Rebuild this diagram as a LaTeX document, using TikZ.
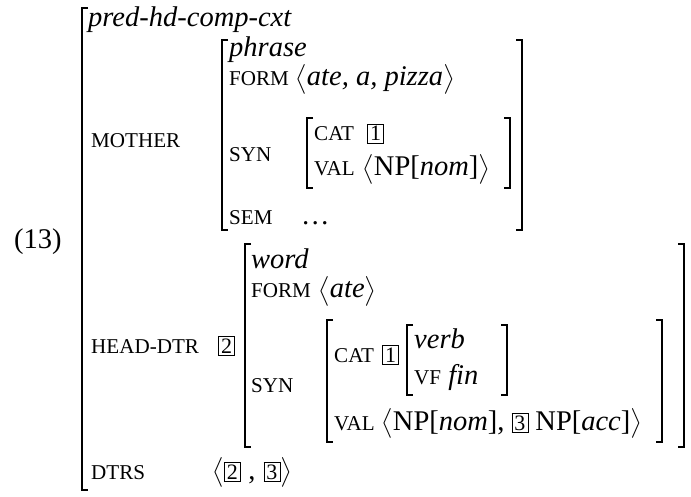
\documentclass[tikz,border=0pt]{standalone}
\usepackage{amsmath}
\usepackage{fontspec}
\setmainfont{Liberation Serif}
\newfontfamily\scfont[Scale=0.74]{Liberation Serif}
% attribute names in (imitated) small capitals
\newcommand\attr[1]{{\scfont #1}}
% boxed structure-sharing tags
\newcommand\tagnum[1]{{\setlength\fboxsep{2.2pt}\setlength\fboxrule{0.6pt}\fbox{\fontsize{22}{24}\selectfont #1}}}
\newcommand\la{$\bigl\langle$}
\newcommand\ra{$\bigr\rangle$}
% square brackets of attribute-value matrices: x, top y, bottom y
\newcommand\lbrk[3]{\draw[brk] ({#1+6},#2) -- (#1,#2) -- (#1,#3) -- ({#1+6},#3);}
\newcommand\rbrk[3]{\draw[brk] ({#1-6},#2) -- (#1,#2) -- (#1,#3) -- ({#1-6},#3);}
\begin{document}
\begin{tikzpicture}[x=1pt,y=-1pt,
  font=\fontsize{28.5}{36}\selectfont,
  txt/.style={anchor=base west,inner sep=0pt},
  brk/.style={line width=1.4pt}]
\useasboundingbox (0,0) rectangle (691,497);

% example number
\node[txt] (num) at (14,249) {(13)};

% outer matrix
\lbrk{82}{8}{490}
\node[txt] (type) at (88,27) {\textit{pred-hd-comp-cxt}};

% MOTHER
\node[txt] (mother) at (91,148) {\attr{MOTHER}};
\lbrk{222}{40}{230}
\rbrk{522}{40}{230}
\node[txt] (phrase) at (229,57) {\textit{phrase}};
\node[txt] (mform) at (229,86) {\attr{FORM}};
\node[txt] (mformv) at (295,86) {\la\textit{ate, a, pizza}\ra};
\node[txt] (msyn) at (229,162) {\attr{SYN}};
\lbrk{307}{118}{188}
\rbrk{510}{118}{188}
\node[txt] (mcat) at (314,141) {\attr{CAT}};
\node[txt] (mcatv) at (367,141) {\tagnum{1}};
\node[txt] (mval) at (314,176) {\attr{VAL}};
\node[txt] (mvalv) at (362,176) {\la NP[\textit{nom}]\ra};
\node[txt] (msem) at (229,225) {\attr{SEM}};
\node[txt] (msemv) at (303,225) {\textit{\dots}};

% HEAD-DTR
\node[txt] (hd) at (91,353) {\attr{HEAD-DTR}};
\node[txt] (hdtag) at (218,353) {\tagnum{2}};
\lbrk{245}{244}{447}
\rbrk{684}{244}{447}
\node[txt] (word) at (251,269) {\textit{word}};
\node[txt] (hform) at (251,298) {\attr{FORM}};
\node[txt] (hformv) at (318,298) {\la\textit{ate}\ra};
\node[txt] (hsyn) at (251,392) {\attr{SYN}};
\lbrk{327}{320}{442}
\rbrk{662}{320}{442}
\node[txt] (hcat) at (334,362) {\attr{CAT}};
\node[txt] (hcattag) at (382,362) {\tagnum{1}};
\lbrk{407}{325}{395}
\rbrk{507}{325}{395}
\node[txt] (verb) at (414,348) {\textit{verb}};
\node[txt] (vf) at (414,384) {\attr{VF} \textit{fin}};
\node[txt] (hval) at (334,430) {\attr{VAL}};
\node[txt] (hvalv) at (381,430) {\la NP[\textit{nom}], \tagnum{3} NP[\textit{acc}]\ra};

% DTRS
\node[txt] (dtrs) at (91,479) {\attr{DTRS}};
\node[txt] (dtrsv) at (212,479) {\la\tagnum{2}\;,\;\tagnum{3}\ra};
\end{tikzpicture}
\end{document}
